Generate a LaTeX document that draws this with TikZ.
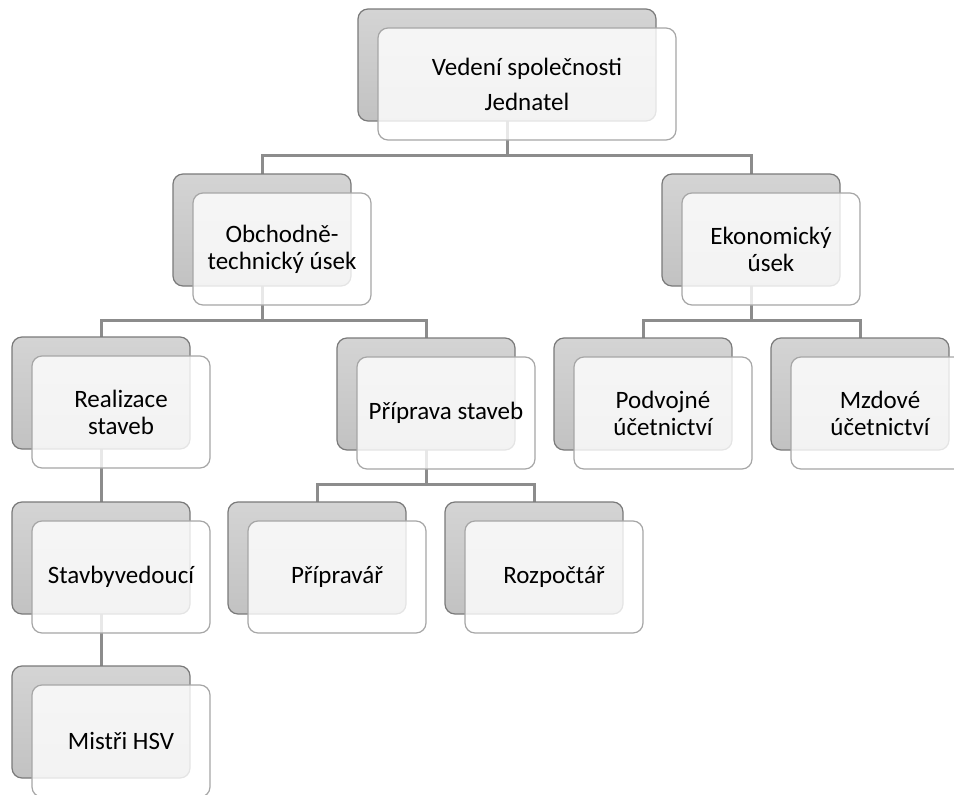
\documentclass[tikz,border=0pt]{standalone}
\usepackage{fontspec}
\setmainfont{Carlito}
\usetikzlibrary{backgrounds}
\definecolor{backtop}{HTML}{D4D4D4}
\definecolor{backbot}{HTML}{C2C2C2}
\definecolor{backline}{HTML}{7A7A7A}
\definecolor{frontline}{HTML}{A6A6A6}
\definecolor{connline}{HTML}{8C8C8C}
\tikzset{
  backbox/.style={draw=backline, line width=1.2pt, rounded corners=10pt,
    top color=backtop, bottom color=backbot, minimum height=112pt,
    inner sep=0pt, outer sep=0pt, anchor=north west},
  frontbox/.style={draw=frontline, line width=1.2pt, rounded corners=10pt,
    fill=white, fill opacity=0.8, text opacity=1, minimum height=112pt,
    inner sep=0pt, outer sep=0pt, anchor=north west, align=center,
    font=\fontsize{25}{27}\selectfont},
  conn/.style={draw=connline, line width=3pt}
}
\newcommand\orgbox[5]{%
  \node[backbox, minimum width=#4] (b#1) at (#2,#3) {};
  \node[frontbox, minimum width=#4] (#1) at ({#2+20},{#3+19}) {#5};
}
\begin{document}
\begin{tikzpicture}[x=1pt,y=-1pt]
\useasboundingbox (0,0) rectangle (954,795);
\clip (0,0) rectangle (954,795);
\orgbox{top}{358}{9}{298pt}{Vedení společnosti\\[8pt]Jednatel}
\orgbox{obch}{173}{174}{178pt}{Obchodně-\\technický úsek}
\orgbox{ekon}{662}{174}{178pt}{Ekonomický\\úsek}
\orgbox{real}{12}{337}{178pt}{Realizace\\staveb}
\orgbox{prip}{337}{338}{178pt}{Příprava staveb}
\orgbox{podv}{554}{338}{178pt}{Podvojné\\účetnictví}
\orgbox{mzd}{771}{338}{178pt}{Mzdové\\účetnictví}
\orgbox{stav}{12}{502}{178pt}{Stavbyvedoucí}
\orgbox{pripr}{228}{502}{178pt}{Přípravář}
\orgbox{rozp}{445}{502}{178pt}{Rozpočtář}
\orgbox{mist}{12}{666}{178pt}{Mistři HSV}
\coordinate (bus1) at (0,155);
\coordinate (bus2) at (0,320);
\coordinate (bus3) at (0,484);
\begin{scope}[on background layer]
\draw[conn] (btop.center) -- (btop.center |- bus1) -| (bobch.north);
\draw[conn] (btop.center |- bus1) -| (bekon.north);
\draw[conn] (bobch.center) -- (bobch.center |- bus2) -| (breal.north);
\draw[conn] (bobch.center |- bus2) -| (bprip.north);
\draw[conn] (bekon.center) -- (bekon.center |- bus2) -| (bpodv.north);
\draw[conn] (bekon.center |- bus2) -| (bmzd.north);
\draw[conn] (bprip.center) -- (bprip.center |- bus3) -| (bpripr.north);
\draw[conn] (bprip.center |- bus3) -| (brozp.north);
\draw[conn] (breal.center) -- (bstav.north);
\draw[conn] (bstav.center) -- (bmist.north);
\end{scope}
\end{tikzpicture}
\end{document}
